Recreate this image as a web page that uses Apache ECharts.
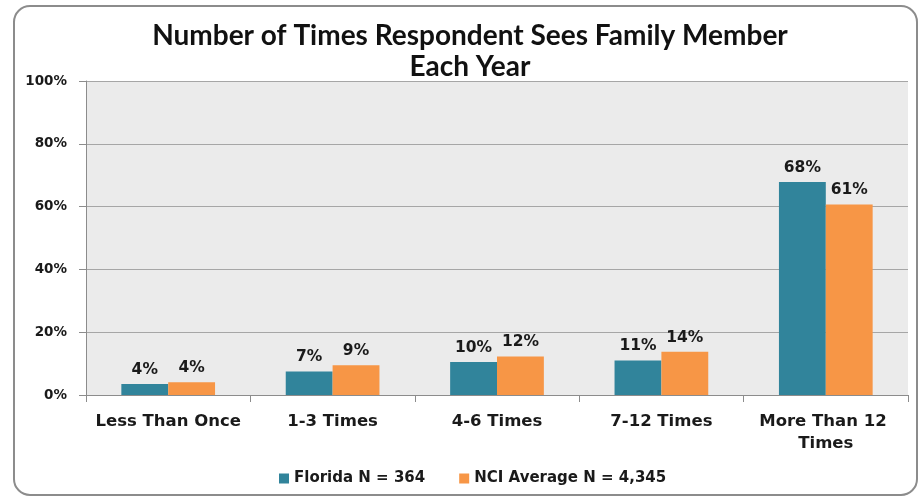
<!DOCTYPE html>
<html>
<head>
<meta charset="utf-8">
<script src="https://cdn.jsdelivr.net/npm/echarts@6/dist/echarts.min.js"></script>
<style>
  html, body { margin: 0; padding: 0; background: #fff; }
  #chart { width: 923px; height: 499px; }
</style>
</head>
<body>
<div id="chart"></div>
<script>
// categories and values (percent)
const categories = ["Less Than Once", "1-3 Times", "4-6 Times", "7-12 Times", "More Than 12 Times"];
const florida = [3.5, 7.5, 10.5, 11, 67.8];
const floridaLabels = ["4%", "7%", "10%", "11%", "68%"];
const nci = [4.1, 9.5, 12.3, 13.8, 60.7];
const nciLabels = ["4%", "9%", "12%", "14%", "61%"];
const yTicks = [0, 20, 40, 60, 80, 100];

const FONT = "DejaVu Sans";
const chart = echarts.init(document.getElementById("chart"));

const labelStyle = labels => ({
  show: true,
  position: "top",
  distance: 6,
  fontFamily: FONT,
  fontWeight: "bold",
  fontSize: 15.5,
  color: "#1a1a1a",
  formatter: p => labels[p.dataIndex],
});

const option = {
  animation: false,
  backgroundColor: "#fff",
  graphic: [
    {
      type: "rect",
      shape: { x: 14, y: 6, width: 903, height: 489, r: 16 },
      style: { fill: "none", stroke: "#8c8c8c", lineWidth: 2 },
      z: -10,
    },
  ],
  title: {
    text: "Number of Times Respondent Sees Family Member\nEach Year",
    left: 465,
    textAlign: "center",
    top: 15,
    textStyle: {
      fontFamily: "Lato",
      fontWeight: "bold",
      fontSize: 28,
      lineHeight: 31,
      color: "#111",
    },
  },
  legend: {
    bottom: 8,
    left: 274,
    itemWidth: 10,
    itemHeight: 10,
    itemGap: 34,
    icon: "rect",
    textStyle: { fontFamily: FONT, fontWeight: "bold", fontSize: 15, color: "#1a1a1a" },
    data: ["Florida N = 364", "NCI Average N = 4,345"],
  },
  grid: { left: 86, right: 15, top: 81, bottom: 104, show: true, backgroundColor: "#ebebeb", borderWidth: 0 },
  xAxis: {
    type: "category",
    data: categories,
    axisLine: { lineStyle: { color: "#8c8c8c" } },
    axisTick: { show: true, interval: 0, length: 7, lineStyle: { color: "#8c8c8c" } },
    axisLabel: {
      interval: 0,
      fontFamily: FONT,
      fontWeight: "bold",
      fontSize: 16.5,
      color: "#1a1a1a",
      margin: 16,
      width: 160,
      overflow: "break",
      lineHeight: 22,
    },
  },
  yAxis: {
    type: "value",
    min: 0,
    max: 100,
    interval: 20,
    axisLine: { show: true, lineStyle: { color: "#8c8c8c" } },
    axisTick: { show: true, length: 7, lineStyle: { color: "#8c8c8c" } },
    splitLine: { lineStyle: { color: "#a6a6a6" } },
    axisLabel: {
      fontFamily: FONT,
      fontWeight: "bold",
      fontSize: 13.5,
      color: "#1a1a1a",
      margin: 19,
      formatter: v => (yTicks.includes(v) ? v + "%" : ""),
    },
  },
  series: [
    {
      name: "Florida N = 364",
      type: "bar",
      data: florida,
      barGap: "0%",
      barCategoryGap: "43%",
      itemStyle: { color: "#31849b" },
      label: labelStyle(floridaLabels),
    },
    {
      name: "NCI Average N = 4,345",
      type: "bar",
      data: nci,
      itemStyle: { color: "#f79646" },
      label: labelStyle(nciLabels),
    },
  ],
};
chart.setOption(option);
</script>
</body>
</html>
